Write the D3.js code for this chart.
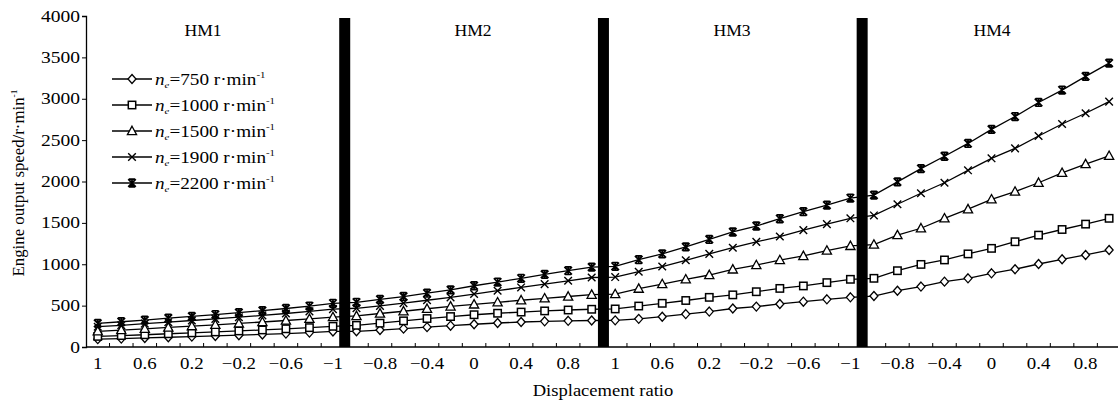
<!DOCTYPE html>
<html lang="en">
<head>
    <meta charset="UTF-8">
    <title>Engine output speed</title>
    <script src="https://d3js.org/d3.v7.min.js"></script>
    <style>
        body { margin: 0; background: #fff; }
        text { font-family: "Liberation Serif", "DejaVu Serif", serif; fill: #000; }
    </style>
</head>
<body>
    <div id="chart"></div>

    <script>
        // Displacement ratio tick labels for each mode segment (11 points per mode)
        const modes = ["HM1", "HM2", "HM3", "HM4"];
        const hm1Ratios = ["1", "0.8", "0.6", "0.4", "0.2", "0", "−0.2", "−0.4", "−0.6", "−0.8", "−1"];
        const hm2Ratios = ["−1", "−0.8", "−0.6", "−0.4", "−0.2", "0", "0.2", "0.4", "0.6", "0.8", "1"];
        const categories = [].concat(hm1Ratios, hm2Ratios, hm1Ratios, hm2Ratios);

        const engineSpeeds = [750, 1000, 1500, 1900, 2200];

        // Output speed (r/min)
        const speed750 = [95, 102, 110, 118, 126, 134, 143, 152, 162, 174, 188,
            190, 205, 222, 240, 258, 275, 290, 302, 310, 316, 320,
            322, 340, 366, 398, 428, 465, 488, 520, 548, 576, 600,
            616, 680, 730, 790, 830, 890, 940, 1003, 1060, 1112, 1172];
        const speed1000 = [128, 138, 148, 160, 171, 182, 194, 206, 220, 234, 250,
            262, 288, 316, 344, 368, 390, 408, 422, 436, 447, 456,
            460, 495, 528, 562, 600, 630, 668, 708, 738, 778, 818,
            830, 922, 998, 1052, 1125, 1192, 1272, 1352, 1420, 1485, 1555];
        const speed1500 = [190, 205, 220, 236, 252, 268, 285, 302, 320, 340, 362,
            375, 405, 432, 462, 490, 515, 540, 565, 588, 610, 632,
            640, 705, 760, 818, 870, 938, 990, 1050, 1100, 1165, 1222,
            1238, 1352, 1435, 1555, 1665, 1785, 1878, 1985, 2105, 2210, 2310];
        const speed1900 = [245, 262, 282, 300, 320, 340, 360, 382, 405, 430, 458,
            468, 497, 530, 565, 600, 640, 680, 720, 760, 800, 840,
            845, 910, 972, 1048, 1125, 1200, 1270, 1335, 1412, 1485, 1555,
            1590, 1725, 1858, 1985, 2135, 2280, 2400, 2550, 2695, 2825, 2965];
        const speed2200 = [285, 305, 325, 348, 370, 392, 415, 440, 465, 495, 528,
            540, 575, 610, 650, 690, 740, 785, 830, 878, 922, 965,
            975, 1055, 1125, 1210, 1300, 1390, 1462, 1550, 1635, 1715, 1800,
            1835, 1995, 2155, 2305, 2460, 2630, 2785, 2955, 3105, 3270, 3430];

        const yTicks = [0, 500, 1000, 1500, 2000, 2500, 3000, 3500, 4000];

        const seriesList = [
            { ne: engineSpeeds[0], values: speed750, marker: "diamond" },
            { ne: engineSpeeds[1], values: speed1000, marker: "square" },
            { ne: engineSpeeds[2], values: speed1500, marker: "triangle" },
            { ne: engineSpeeds[3], values: speed1900, marker: "cross" },
            { ne: engineSpeeds[4], values: speed2200, marker: "star" }
        ];

        const svgWidth = 1118;
        const svgHeight = 407;
        const margin = { top: 16, left: 86 };
        const bandW = 23.52;
        const width = bandW * categories.length;
        const height = 331;

        const svg = d3.select("#chart")
            .append("svg")
            .attr("width", svgWidth)
            .attr("height", svgHeight);

        // the original picture has its text a little wide, so stretch it sideways
        function placeText(parent, px, py, sx) {
            return parent.append("text")
                .attr("transform", `translate(${px},${py}) scale(${sx},1)`)
                .style("font-size", "16px");
        }

        const g = svg.append("g")
            .attr("transform", `translate(${margin.left},${margin.top})`);

        const idx = d3.range(categories.length);
        const x = d3.scaleBand().domain(idx).range([0, width]);
        const y = d3.scaleLinear().domain([0, 4000]).range([height, 0]);

        // x axis: ticks between categories pointing up, every other label
        g.append("line")
            .attr("x1", 0).attr("x2", width)
            .attr("y1", height).attr("y2", height)
            .attr("stroke", "#000").attr("stroke-width", 1.3);

        g.selectAll(".xtick")
            .data(d3.range(1, categories.length))
            .enter().append("line")
            .attr("x1", d => x(d)).attr("x2", d => x(d))
            .attr("y1", height).attr("y2", height - 4)
            .attr("stroke", "#000").attr("stroke-width", 1);

        idx.filter(i => i % 2 === 0).forEach(i => {
            placeText(g, x(i) + x.bandwidth() / 2, height + 22, 1.18)
                .attr("text-anchor", "middle")
                .text(categories[i]);
        });

        // y axis
        const yAxis = g.append("g")
            .call(d3.axisLeft(y).tickValues(yTicks).tickSize(4).tickFormat(() => ""));
        yAxis.select(".domain").attr("stroke", "#000").attr("stroke-width", 1.3);
        yTicks.forEach(v => {
            placeText(g, -6, y(v) + 5.5, 1.22)
                .attr("text-anchor", "end")
                .text(v);
        });

        // mode separators
        g.selectAll(".sep")
            .data([11, 22, 33])
            .enter().append("rect")
            .attr("x", d => x(d) - 5.5)
            .attr("y", 2)
            .attr("width", 11)
            .attr("height", height - 2)
            .attr("fill", "#000");

        // mode labels
        const modeX = [203, 473, 732, 992];
        modes.forEach((m, i) => {
            placeText(svg, modeX[i], 36, 1.1).attr("text-anchor", "middle").text(m);
        });

        // marker drawing
        function drawMarker(sel, type) {
            if (type === "diamond") {
                sel.append("path").attr("d", "M0,-4.5L4,0L0,4.5L-4,0Z")
                    .attr("fill", "#fff").attr("stroke", "#000").attr("stroke-width", 1.3);
            } else if (type === "square") {
                sel.append("rect").attr("x", -3.7).attr("y", -3.7).attr("width", 7.4).attr("height", 7.4)
                    .attr("fill", "#fff").attr("stroke", "#000").attr("stroke-width", 1.5);
            } else if (type === "triangle") {
                sel.append("path").attr("d", "M0,-4.8L4.6,3.6L-4.6,3.6Z")
                    .attr("fill", "#fff").attr("stroke", "#000").attr("stroke-width", 1.3);
            } else if (type === "cross") {
                sel.append("path").attr("d", "M-3.8,-3.8L3.8,3.8M-3.8,3.8L3.8,-3.8")
                    .attr("stroke", "#000").attr("stroke-width", 1.4);
            } else {
                sel.append("path").attr("d", "M-3.8,-3.8L3.8,3.8M-3.8,3.8L3.8,-3.8M0,-4.5L0,4.5M-3,-3.8L3,-3.8M-3,3.8L3,3.8")
                    .attr("stroke", "#000").attr("stroke-width", 1.7);
            }
        }

        const line = d3.line()
            .x((d, i) => x(i) + x.bandwidth() / 2)
            .y(d => y(d));

        seriesList.forEach(s => {
            g.append("path")
                .datum(s.values)
                .attr("d", line)
                .attr("fill", "none")
                .attr("stroke", "#000")
                .attr("stroke-width", 1.3);

            g.selectAll(".m" + s.ne)
                .data(s.values)
                .enter().append("g")
                .attr("transform", (d, i) => `translate(${x(i) + x.bandwidth() / 2},${y(d)})`)
                .each(function () { drawMarker(d3.select(this), s.marker); });
        });

        // legend
        const legend = svg.append("g");
        seriesList.forEach((s, i) => {
            const ly = 79 + i * 26;
            legend.append("line")
                .attr("x1", 112).attr("x2", 152)
                .attr("y1", ly).attr("y2", ly)
                .attr("stroke", "#000").attr("stroke-width", 1.3);
            drawMarker(legend.append("g").attr("transform", `translate(132,${ly})`), s.marker);

            const t = placeText(legend, 155, ly + 5.5, 1.2);
            t.append("tspan").style("font-style", "italic").text("n");
            t.append("tspan").style("font-style", "italic").style("font-size", "9px").attr("dy", 3).text("e");
            t.append("tspan").attr("dy", -3).text(`=${s.ne} r·min`);
            t.append("tspan").style("font-size", "9px").attr("dy", -7).text("-1");
        });

        // axis titles
        svg.append("text")
            .attr("transform", "translate(24,183) rotate(-90) scale(1.05,1)")
            .attr("text-anchor", "middle")
            .style("font-size", "16px")
            .call(t => {
                t.append("tspan").text("Engine output speed/r·min");
                t.append("tspan").style("font-size", "9px").attr("dy", -7).text("-1");
            });

        placeText(svg, 603, 396, 1.16)
            .attr("text-anchor", "middle")
            .text("Displacement ratio");
    </script>
</body>
</html>
